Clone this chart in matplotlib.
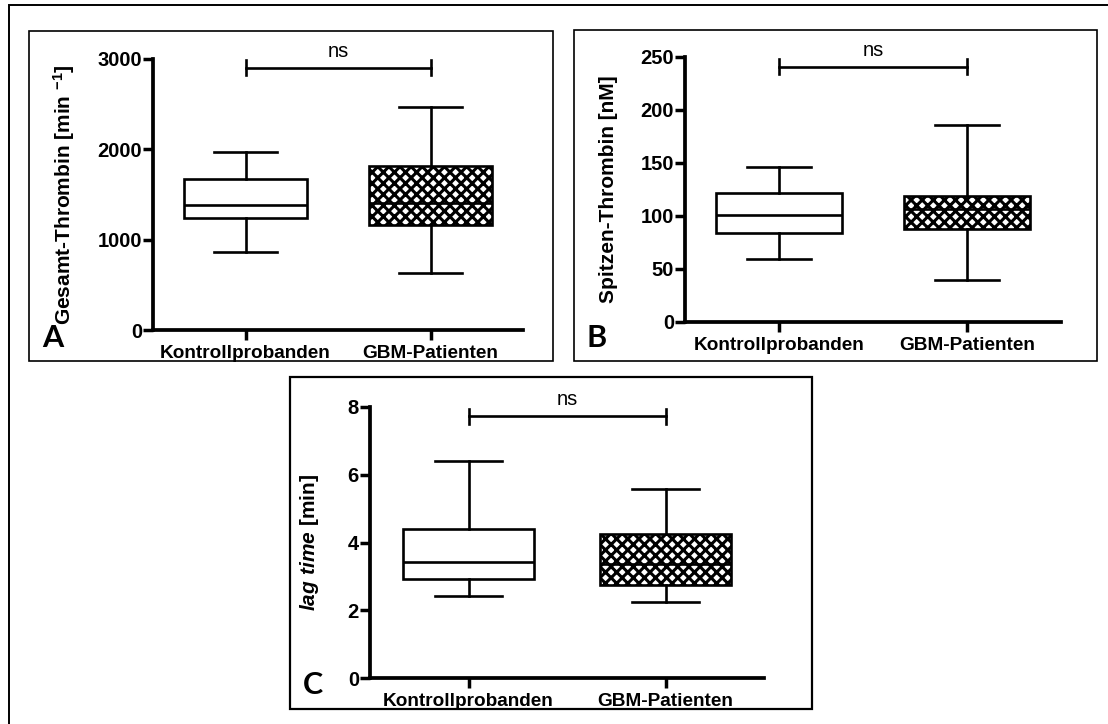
import matplotlib
matplotlib.use("Agg")
import matplotlib.pyplot as plt
from matplotlib.patches import Rectangle

plt.rcParams['font.family'] = ['Liberation Sans', 'DejaVu Sans']
plt.rcParams['mathtext.fontset'] = 'custom'
plt.rcParams['mathtext.rm'] = 'Liberation Sans:bold'
plt.rcParams['mathtext.bf'] = 'Liberation Sans:bold'
plt.rcParams['mathtext.it'] = 'Liberation Sans:italic:bold'
plt.rcParams['hatch.color'] = 'black'
plt.rcParams['hatch.linewidth'] = 2.2

# Data
groups = ['Kontrollprobanden', 'GBM-Patienten']

a_low = [867, 627]
a_q1 = [1245, 1160]
a_med = [1384, 1408]
a_q3 = [1675, 1817]
a_high = [1974, 2467]

b_low = [59, 40]
b_q1 = [84, 88]
b_med = [101, 107]
b_q3 = [122, 119]
b_high = [146, 186]

c_low = [2.42, 2.24]
c_q1 = [2.91, 2.74]
c_med = [3.41, 3.38]
c_q3 = [4.41, 4.24]
c_high = [6.41, 5.58]

a_ticks = [0, 1000, 2000, 3000]
b_ticks = [0, 50, 100, 150, 200, 250]
c_ticks = [0, 2, 4, 6, 8]

sig_y = [2905, 241, 7.73]
sig_cap = [80, 7, 0.22]

W, H = 1108, 724
fig = plt.figure(figsize=(W / 100, H / 100), dpi=100)


def frame(x0, y0, x1, y1, lw=1.2):
    fig.patches.append(Rectangle((x0 / W, 1 - y1 / H), (x1 - x0) / W, (y1 - y0) / H,
                                 transform=fig.transFigure, fill=False,
                                 edgecolor='black', linewidth=lw))


def panel(rect, low, q1, med, q3, high, ticks, ylabel, label_x, sy, cap, letter, letter_xy):
    l, t, r, b = rect
    ax = fig.add_axes([l / W, 1 - b / H, (r - l) / W, (b - t) / H])
    stats = []
    for i in range(len(groups)):
        stats.append(dict(whislo=low[i], q1=q1[i], med=med[i], q3=q3[i],
                          whishi=high[i], fliers=[], label=groups[i]))
    bp = ax.bxp(stats, positions=[1, 2], widths=0.67, capwidths=0.34,
                showfliers=False, patch_artist=True,
                boxprops=dict(linewidth=1.9, edgecolor='black'),
                medianprops=dict(color='black', linewidth=1.9),
                whiskerprops=dict(color='black', linewidth=1.9),
                capprops=dict(color='black', linewidth=1.9))
    bp['boxes'][0].set_facecolor('white')
    bp['boxes'][1].set_facecolor('white')
    bp['boxes'][1].set_hatch('xxx')
    ax.set_xlim(0.5, 2.5)
    ax.set_ylim(ticks[0], ticks[-1])
    ax.set_yticks(ticks)
    ax.set_xticks([1, 2])
    ax.set_xticklabels(groups, fontsize=13.7, fontweight='bold')
    for lab in ax.get_yticklabels():
        lab.set_fontweight('bold')
        lab.set_fontsize(14.5)
    ax.spines['top'].set_visible(False)
    ax.spines['right'].set_visible(False)
    ax.spines['left'].set_linewidth(2.7)
    ax.spines['bottom'].set_linewidth(2.7)
    ax.tick_params(axis='y', length=7, width=2.5, pad=1)
    ax.tick_params(axis='x', length=7, width=2.5, pad=4)
    ax.set_ylabel(ylabel, fontsize=15, fontweight='bold')
    ax.yaxis.set_label_coords(label_x, 0.5)
    # significance bar
    ax.plot([1, 2], [sy, sy], color='black', linewidth=1.9, clip_on=False)
    for x in [1, 2]:
        ax.plot([x, x], [sy - cap, sy + cap], color='black', linewidth=1.9, clip_on=False)
    ax.annotate('ns', xy=(1.5, sy), xytext=(0, 5), textcoords='offset points',
                ha='center', va='bottom', fontsize=14.5, annotation_clip=False)
    fig.text(letter_xy[0] / W, 1 - letter_xy[1] / H, letter, fontsize=22,
             fontweight='bold', family='Lato', ha='center', va='center')
    return ax


# outer frame (runs off the right and bottom edges)
frame(9, 5, 1300, 900, lw=1.4)
frame(29, 31, 553, 361)
frame(574, 30, 1097, 361)
frame(290, 377, 812, 709, lw=1.6)

panel((153, 59, 523, 330), a_low, a_q1, a_med, a_q3, a_high, a_ticks,
      'Gesamt-Thrombin [min $^{-1}$]', -0.205, sig_y[0], sig_cap[0], 'A', (53, 338))
panel((685, 57, 1061, 322), b_low, b_q1, b_med, b_q3, b_high, b_ticks,
      'Spitzen-Thrombin [nM]', -0.178, sig_y[1], sig_cap[1], 'B', (597, 338))
panel((370, 407, 764, 678), c_low, c_q1, c_med, c_q3, c_high, c_ticks,
      r'$\mathit{lag\ time}$ [min]', -0.124, sig_y[2], sig_cap[2], 'C', (313, 685))

fig.savefig('out.png', dpi=100)
